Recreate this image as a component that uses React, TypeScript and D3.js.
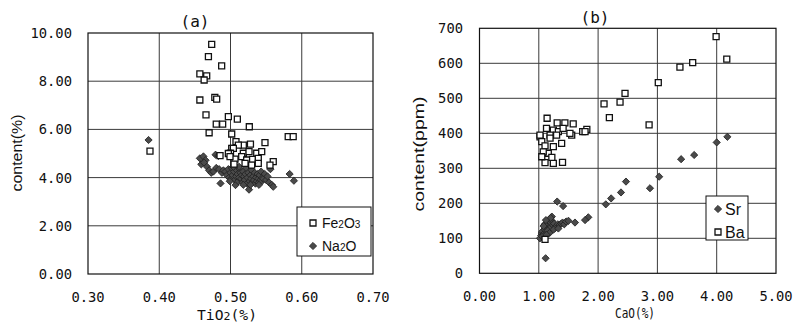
import React from "react";
import * as d3 from "d3";

// ---------- data ----------
const fe2o3: [number, number][] = [
  [0.387, 5.1], [0.4736, 9.53], [0.469, 9.02], [0.4876, 8.64], [0.457, 8.3], [0.4666, 8.22], [0.463, 8.05],
  [0.457, 7.22], [0.478, 7.33], [0.4806, 7.26], [0.4656, 6.6], [0.48, 6.22], [0.489, 6.22], [0.497, 6.53],
  [0.5096, 6.43], [0.5264, 6.11], [0.47, 5.86], [0.5017, 5.81], [0.581, 5.7], [0.588, 5.7], [0.5484, 5.45],
  [0.5077, 5.49], [0.518, 5.35], [0.528, 5.39], [0.511, 5.35], [0.5017, 5.21], [0.504, 5.21], [0.4853, 4.91],
  [0.5, 5.01], [0.497, 5.0], [0.518, 5.01], [0.526, 5.08], [0.5368, 5.01], [0.5438, 5.08], [0.5063, 4.77],
  [0.5157, 4.87], [0.5227, 4.73], [0.531, 4.76], [0.539, 4.8], [0.505, 4.56], [0.5204, 4.59], [0.5297, 4.52],
  [0.539, 4.59], [0.56, 4.66], [0.5554, 4.52], [0.4993, 4.87],
];
const na2o: [number, number][] = [
  [0.385, 5.56],
  [0.457, 4.8], [0.462, 4.88], [0.465, 4.72], [0.459, 4.55], [0.463, 4.62], [0.467, 4.45], [0.47, 4.3],
  [0.473, 4.2], [0.476, 4.25], [0.479, 4.95], [0.483, 4.9], [0.48, 4.4], [0.484, 4.35], [0.486, 3.76],
  [0.488, 4.2], [0.49, 4.3],
  [0.493, 4.25], [0.495, 4.1], [0.497, 4.35], [0.498, 4.0], [0.5, 4.2], [0.501, 3.95], [0.502, 4.4],
  [0.503, 4.1], [0.505, 4.25], [0.506, 3.9], [0.507, 3.69], [0.508, 4.05], [0.509, 4.3], [0.51, 4.15],
  [0.511, 3.85], [0.512, 4.0], [0.513, 4.35], [0.514, 4.2], [0.515, 3.95], [0.516, 4.1], [0.517, 3.8],
  [0.518, 4.25], [0.519, 4.05], [0.52, 3.9], [0.521, 4.15], [0.522, 4.4], [0.523, 3.75], [0.524, 4.0],
  [0.525, 4.2], [0.526, 3.5], [0.527, 3.85], [0.528, 4.1], [0.529, 3.95], [0.53, 4.3], [0.531, 3.8],
  [0.532, 4.05], [0.533, 3.9], [0.534, 4.2], [0.535, 3.75], [0.536, 4.0], [0.537, 3.85], [0.538, 4.15],
  [0.539, 3.95], [0.54, 3.8], [0.541, 4.1], [0.542, 3.9], [0.543, 4.25], [0.544, 3.85], [0.545, 4.0],
  [0.546, 3.95], [0.548, 4.15], [0.55, 3.9], [0.552, 4.05], [0.554, 3.8], [0.556, 4.35], [0.558, 3.7],
  [0.56, 3.62], [0.504, 4.45], [0.512, 4.45], [0.499, 3.85], [0.518, 3.7], [0.528, 3.7], [0.54, 3.7],
  [0.583, 4.15], [0.589, 3.87],
];
const ba: [number, number][] = [
  [3.99, 676], [4.17, 612], [3.595, 602], [3.38, 589], [3.015, 545], [2.454, 514], [2.37, 489], [2.1, 484],
  [2.19, 445], [2.86, 424], [1.81, 411], [1.74, 405], [1.58, 427], [1.555, 395], [1.44, 430], [1.31, 430],
  [1.14, 443], [1.13, 414], [1.245, 409], [1.33, 405], [1.41, 414], [1.02, 390], [1.19, 395], [1.05, 376],
  [1.19, 386], [1.3, 395], [1.385, 371], [1.105, 364], [1.245, 362], [1.16, 343], [1.075, 347], [1.105, 316],
  [1.245, 314], [1.4, 317], [1.02, 395], [1.525, 400], [1.78, 405], [1.05, 333], [1.22, 331], [1.105, 97],
];
const sr: [number, number][] = [
  [4.18, 390], [4.0, 374], [3.62, 338], [3.4, 326], [3.03, 276], [2.875, 243], [2.47, 262], [2.386, 231],
  [2.22, 214], [2.13, 197], [1.31, 205], [1.41, 192], [1.835, 160], [1.78, 152], [1.61, 145], [1.115, 43],
  [1.02, 100], [1.04, 108], [1.05, 115], [1.06, 120], [1.08, 112], [1.1, 125], [1.12, 130], [1.14, 118],
  [1.15, 135], [1.17, 140], [1.18, 128], [1.2, 145], [1.22, 150], [1.22, 162], [1.2, 158], [1.24, 138],
  [1.26, 142], [1.28, 130], [1.3, 135], [1.32, 140], [1.35, 138], [1.38, 142], [1.4, 145], [1.43, 140],
  [1.46, 148], [1.5, 150], [1.1, 140], [1.12, 152], [1.08, 135], [1.15, 122], [1.06, 105], [1.25, 125],
  [1.33, 128], [1.18, 115], [1.13, 110],
];
const xTicksA = [0.3, 0.4, 0.5, 0.6, 0.7];
const yTicksA = [0, 2, 4, 6, 8, 10];
const xTicksB = [0, 1, 2, 3, 4, 5];
const yTicksB = [0, 100, 200, 300, 400, 500, 600, 700];

const MONO = "'DejaVu Sans Mono', 'Liberation Mono', monospace";
const SANS = "'Liberation Sans', Arial, sans-serif";

const diamondPath = d3.symbol().type(d3.symbolSquare).size(26)() as string;
const squarePath = d3.symbol().type(d3.symbolSquare).size(36)() as string;

function Diamond({ x, y }: { x: number; y: number }) {
  return <path d={diamondPath} transform={`translate(${x},${y}) rotate(45)`} fill="#4a4a4a" stroke="#222" strokeWidth={0.8} />;
}
function Square({ x, y }: { x: number; y: number }) {
  return <path d={squarePath} transform={`translate(${x},${y})`} fill="#fff" stroke="#111" strokeWidth={1.3} />;
}

export default function App() {
  // panel (a)
  const xa = d3.scaleLinear().domain([0.3, 0.7]).range([88, 373]);
  const ya = d3.scaleLinear().domain([0, 10]).range([274, 33]);
  // panel (b)
  const xb = d3.scaleLinear().domain([0, 5]).range([479.5, 776]);
  const yb = d3.scaleLinear().domain([0, 700]).range([273.3, 28.3]);
  const gridColor = "#3a3a3a";
  const tickFs = 13.8;

  return (
    <svg width={793} height={324} style={{ position: "absolute", left: 0, top: 0, background: "#fff" }}>
      <rect width={793} height={324} fill="#fff" />
      {/* ---------- Panel (a) ---------- */}
      <g>
        {yTicksA.slice(1, -1).map((t) => (
          <line key={"gya" + t} x1={xa(0.3)} x2={xa(0.7)} y1={ya(t)} y2={ya(t)} stroke={gridColor} strokeWidth={1} />
        ))}
        {xTicksA.slice(1, -1).map((t) => (
          <line key={"gxa" + t} x1={xa(t)} x2={xa(t)} y1={ya(0)} y2={ya(10)} stroke={gridColor} strokeWidth={1} />
        ))}
        <rect x={xa(0.3)} y={ya(10)} width={xa(0.7) - xa(0.3)} height={ya(0) - ya(10)} fill="none" stroke="#111" strokeWidth={1.2} />
        {na2o.map((d, i) => (
          <Diamond key={"na" + i} x={xa(d[0])} y={ya(d[1])} />
        ))}
        {fe2o3.map((d, i) => (
          <Square key={"fe" + i} x={xa(d[0])} y={ya(d[1])} />
        ))}
        {yTicksA.map((t) => (
          <text key={"lya" + t} x={72} y={ya(t) + 5} textAnchor="end" fontFamily={MONO} fontSize={tickFs} fill="#111">
            {t.toFixed(2)}
          </text>
        ))}
        {xTicksA.map((t) => (
          <text key={"lxa" + t} x={xa(t)} y={302} textAnchor="middle" fontFamily={MONO} fontSize={tickFs} fill="#111">
            {t.toFixed(2)}
          </text>
        ))}
        <text x={195} y={27} textAnchor="middle" fontFamily={MONO} fontSize={16} fill="#111">(a)</text>
        <text transform="translate(22,153) rotate(-90)" textAnchor="middle" fontFamily={SANS} fontSize={14} fill="#111" textLength={77} lengthAdjust="spacingAndGlyphs">
          content(%)
        </text>
        <text x={227} y={320} textAnchor="middle" fontFamily={MONO} fontSize={14} fill="#111" textLength={60} lengthAdjust="spacingAndGlyphs">
          TiO<tspan fontSize={11}>2</tspan>(%)
        </text>
        {/* legend */}
        <rect x={297} y={207} width={74} height={49} fill="#fff" stroke="#111" strokeWidth={1} />
        <Square x={313} y={223} />
        <text x={322} y={228} fontFamily={SANS} fontSize={14} fill="#111">
          Fe<tspan fontSize={10}>2</tspan>O<tspan fontSize={10}>3</tspan>
        </text>
        <Diamond x={313} y={246} />
        <text x={322} y={251} fontFamily={SANS} fontSize={14} fill="#111">
          Na<tspan fontSize={10}>2</tspan>O
        </text>
      </g>

      {/* ---------- Panel (b) ---------- */}
      <g>
        {yTicksB.slice(1, -1).map((t) => (
          <line key={"gyb" + t} x1={xb(0)} x2={xb(5)} y1={yb(t)} y2={yb(t)} stroke={gridColor} strokeWidth={1} />
        ))}
        {xTicksB.slice(1, -1).map((t) => (
          <line key={"gxb" + t} x1={xb(t)} x2={xb(t)} y1={yb(0)} y2={yb(700)} stroke={gridColor} strokeWidth={1} />
        ))}
        <rect x={xb(0)} y={yb(700)} width={xb(5) - xb(0)} height={yb(0) - yb(700)} fill="none" stroke="#111" strokeWidth={1.2} />
        {sr.map((d, i) => (
          <Diamond key={"sr" + i} x={xb(d[0])} y={yb(d[1])} />
        ))}
        {ba.map((d, i) => (
          <Square key={"ba" + i} x={xb(d[0])} y={yb(d[1])} />
        ))}
        {yTicksB.map((t) => (
          <text key={"lyb" + t} x={463} y={yb(t) + 5} textAnchor="end" fontFamily={MONO} fontSize={tickFs} fill="#111">
            {t}
          </text>
        ))}
        {xTicksB.map((t) => (
          <text key={"lxb" + t} x={xb(t)} y={301} textAnchor="middle" fontFamily={MONO} fontSize={tickFs} fill="#111">
            {t.toFixed(2)}
          </text>
        ))}
        <text x={595} y={23} textAnchor="middle" fontFamily={MONO} fontSize={16} fill="#111">(b)</text>
        <text transform="translate(424,154) rotate(-90)" textAnchor="middle" fontFamily={SANS} fontSize={14} fill="#111" textLength={115} lengthAdjust="spacingAndGlyphs">
          content(ppm)
        </text>
        <text x={635} y={318} textAnchor="middle" fontFamily={MONO} fontSize={14} fill="#111" textLength={40} lengthAdjust="spacingAndGlyphs">
          CaO(%)
        </text>
        {/* legend */}
        <rect x={706} y={196} width={42} height={44} fill="#fff" stroke="#111" strokeWidth={1} />
        <Diamond x={718} y={209} />
        <text x={725} y={215} fontFamily={SANS} fontSize={16} fill="#111">Sr</text>
        <Square x={718} y={232} />
        <text x={725} y={238} fontFamily={SANS} fontSize={16} fill="#111">Ba</text>
      </g>
    </svg>
  );
}
